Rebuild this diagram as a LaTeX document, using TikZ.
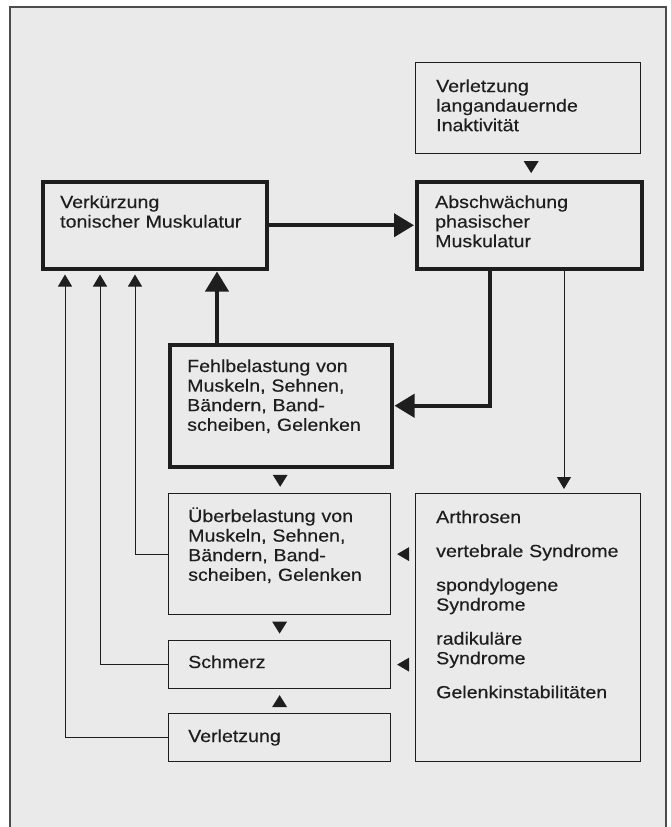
\documentclass[tikz,border=0pt]{standalone}
\usepackage{fontspec}
\setmainfont[FakeStretch=1.12,FakeBold=0.35]{Liberation Sans}
\usetikzlibrary{arrows.meta,calc}
\definecolor{ink}{HTML}{1E1E1E}
\definecolor{paper}{HTML}{EAEAEA}
\newcommand\tridown[1]{\fill[ink] (#1) ++(-7.5,-6) -- ++(15,0) -- ++(-7.5,12) -- cycle;}
\newcommand\triup[1]{\fill[ink] (#1) ++(-7.5,6) -- ++(15,0) -- ++(-7.5,-12) -- cycle;}
\newcommand\trileft[1]{\fill[ink] (#1) ++(6,-7) -- ++(0,14) -- ++(-12,-7) -- cycle;}
\begin{document}
\begin{tikzpicture}[x=1pt,y=-1pt,
  box/.style={draw=ink, line width=1.2pt, anchor=north west, inner sep=0pt},
  thickbox/.style={box, line width=3.5pt},
  txt/.style={anchor=base west, align=left, text width=200pt, inner sep=0pt, text=ink, font=\fontsize{17.5}{19.6}\selectfont},
  conn/.style={draw=ink, line width=1pt, -{Triangle[length=12pt,width=14pt]}},
  thk/.style={draw=ink, line width=4pt, -{Triangle[length=20pt,width=23pt]}},
  frame/.style={draw=black!70, line width=1.5pt, fill=paper}]
\useasboundingbox (0,0) rectangle (670,827);
\fill[white] (0,0) rectangle (670,827);
\draw[frame] (10,7) rectangle (666,845);

% boxes
\node[box, minimum width=225pt, minimum height=91pt] (inakt) at (415,62) {};
\node[thickbox, minimum width=224pt, minimum height=87pt] (verk) at (41,180) {};
\node[thickbox, minimum width=225pt, minimum height=87pt] (absch) at (415,180) {};
\node[thickbox, minimum width=222pt, minimum height=122pt] (fehl) at (168,343) {};
\node[box, minimum width=222pt, minimum height=121pt] (ueber) at (168,493) {};
\node[box, minimum width=225pt, minimum height=268pt] (arth) at (415,493) {};
\node[box, minimum width=222pt, minimum height=48pt] (schmerz) at (168,640) {};
\node[box, minimum width=222pt, minimum height=48pt] (verl) at (168,713) {};

% texts
\node[txt] (inaktT) at (436,92) {Verletzung\\langandauernde\\Inaktivität};
\node[txt] (verkT) at (60,208) {Verkürzung\\tonischer Muskulatur};
\node[txt] (abschT) at (435,208) {Abschwächung\\phasischer\\Muskulatur};
\node[txt] (fehlT) at (187,372) {Fehlbelastung von\\Muskeln, Sehnen,\\Bändern, Band-\\scheiben, Gelenken};
\node[txt] (ueberT) at (188,522) {Überbelastung von\\Muskeln, Sehnen,\\Bändern, Band-\\scheiben, Gelenken};
\node[txt] (arthT) at (436,523) {Arthrosen\\[14.4pt]vertebrale Syndrome\\[14.4pt]spondylogene\\Syndrome\\[14.4pt]radikuläre\\Syndrome\\[14.4pt]Gelenkinstabilitäten};
\node[txt] (schmerzT) at (188,668) {Schmerz};
\node[txt] (verlT) at (188,742) {Verletzung};

% thick connectors
\draw[thk, shorten >=1pt] (verk.east) -- (absch.west);
\draw[thk, shorten >=1pt] ([xshift=49pt]fehl.north west) -- ([xshift=176pt]verk.south west);
\draw[thk, shorten >=1pt] ([xshift=75pt]absch.south west) |- (fehl.east);

% thin connectors
\draw[conn, shorten >=4pt] ([xshift=149pt]absch.south west) -- ([xshift=149pt]arth.north west);
\draw[conn, shorten >=4pt] (ueber.west) -| ([xshift=94pt]verk.south west);
\draw[conn, shorten >=4pt] (schmerz.west) -| ([xshift=59pt]verk.south west);
\draw[conn, shorten >=4pt] (verl.west) -| ([xshift=24pt]verk.south west);

% detached arrowheads
\tridown{$(inakt.south)!0.5!(absch.north)+(2.5,0)$}
\tridown{$(fehl.south)!0.5!(ueber.north)$}
\tridown{$(ueber.south)!0.5!(schmerz.north)$}
\triup{$(schmerz.south)!0.5!(verl.north)$}
\trileft{$(ueber.east)!0.5!(arth.west |- ueber.east)$}
\trileft{$(schmerz.east)!0.5!(arth.west |- schmerz.east)$}
\end{tikzpicture}
\end{document}
